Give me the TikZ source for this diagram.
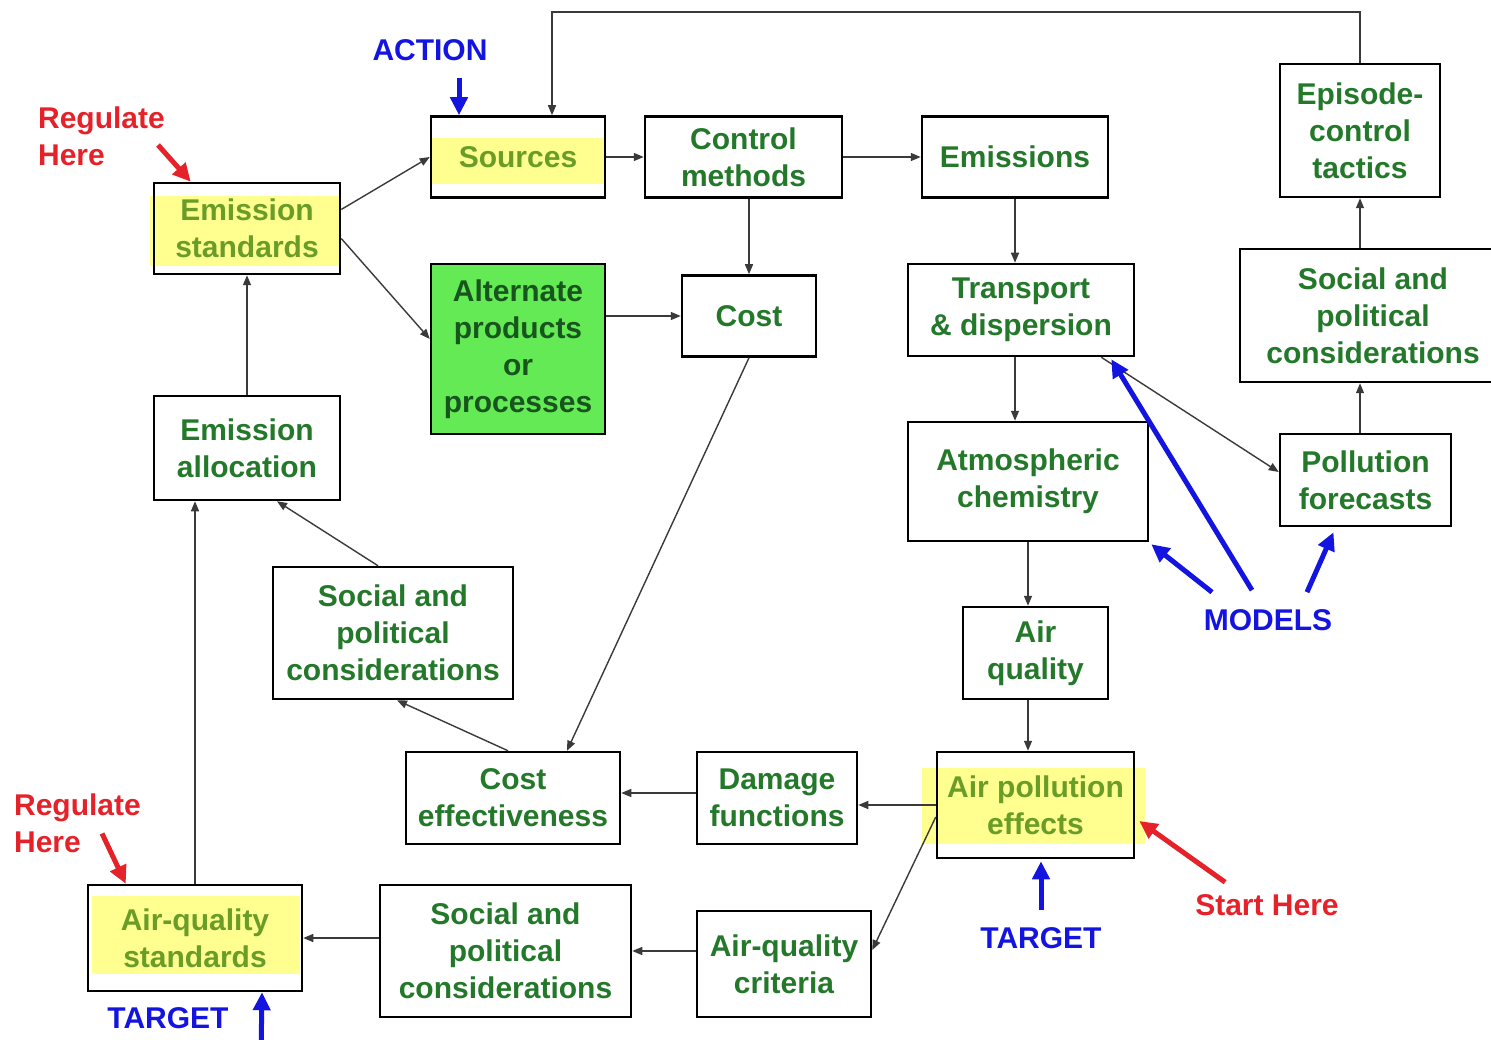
\documentclass[tikz,border=0pt]{standalone}
\usepackage{fontspec}
\setmainfont{Liberation Sans}
\usetikzlibrary{arrows.meta, calc, backgrounds}
\definecolor{cgreen}{HTML}{23782A}
\definecolor{colive}{HTML}{6A9C28}
\definecolor{cfill}{HTML}{63EA55}
\definecolor{chl}{HTML}{FFFF90}
\definecolor{cblue}{HTML}{1414E0}
\definecolor{cred}{HTML}{E5222A}
\definecolor{cgrey}{HTML}{3A3A3A}
\tikzset{
  every picture/.style={font=\bfseries\fontsize{30}{37}\selectfont},
  box/.style={draw=black, line width=2.5pt, align=center, inner sep=0pt, text=#1},
  box/.default=cgreen,
  conn/.style={-{Triangle[length=10pt, width=8pt]}, draw=cgrey, line width=1.4pt},
  pointer/.style={-{Triangle[length=18pt, width=17pt]}, draw=#1, line width=5pt},
  callout/.style={text=#1, align=left, inner sep=0pt},
}

\begin{document}
\begin{tikzpicture}[x=1pt, y=-1pt]
  \useasboundingbox (0,0) rectangle (1491,1040);
  % the boxes of the control scheme
  \foreach \n/\x/\y/\bw/\bh/\col/\txt in {
      src/518/157/174/81/colive/Sources,
      ctrl/743.5/157/197/81/cgreen/{Control\\methods},
      emis/1015/157/186/81/cgreen/Emissions,
      epis/1360/130.5/160/133/cgreen/{Episode-\\control\\tactics},
      socR/1373/315.5/266/133/cgreen/{Social and\\political\\considerations},
      fcst/1365.5/480/171/92/cgreen/{Pollution\\forecasts},
      estd/247/228.5/186/91/colive/{Emission\\standards},
      cost/749/316/134/81/cgreen/Cost,
      trans/1021/310/226/92/cgreen/{Transport\\\& dispersion},
      chem/1028/481.5/240/119/cgreen/{Atmospheric\\chemistry},
      alloc/247/448/186/104/cgreen/{Emission\\allocation},
      socM/393/633/240/132/cgreen/{Social and\\political\\considerations},
      airq/1035.5/653/145/92/cgreen/{Air\\quality},
      ceff/513/798/214/92/cgreen/{Cost\\effectiveness},
      dmg/777/798/160/92/cgreen/{Damage\\functions},
      ape/1035.5/805/197/106/colive/{Air pollution\\effects},
      aqs/195/938/214/106/colive/{Air-quality\\standards},
      socB/505.5/951/251/132/cgreen/{Social and\\political\\considerations},
      aqc/784/964/174/106/cgreen/{Air-quality\\criteria}} {
    \node[box=\col, minimum width=\bw pt, minimum height=\bh pt] (\n) at (\x,\y) {\txt};
  }
  \node[box, fill=cfill, text=cgreen!70!black, minimum width=174pt, minimum height=170pt]
    (alt) at (518,349) {Alternate\\products\\or\\processes};

  % highlighter marks
  \begin{scope}[on background layer]
    \fill[chl] (431,138) rectangle (605,184);
    \fill[chl] (150,196) rectangle (340,266);
    \fill[chl] (922,768) rectangle (1145,844);
    \fill[chl] (92,896) rectangle (300,974);
  \end{scope}

  % connectors
  \foreach \a/\b in {src.east/ctrl.west, ctrl.east/emis.west, alloc.north/estd.south,
      ape.west/ape.west -| dmg.east, aqc.west |- socB.east/socB.east,
      socB.west |- aqs.east/aqs.east, ctrl.south -| cost.north/cost.north,
      alt.east |- cost.west/cost.west, emis.south/emis.south |- trans.north,
      trans.south -| emis.south/emis.south |- chem.north, chem.south/chem.south |- airq.north,
      chem.south |- airq.south/chem.south |- ape.north, epis.south |- fcst.north/epis.south |- socR.south,
      epis.south |- socR.north/epis.south, aqs.north/aqs.north |- alloc.south}
    \draw[conn] (\a) -- (\b);
  \draw[conn] ($(estd.east)+(0,-19)$) -- (src.west);
  \draw[conn] ($(estd.east)+(0,10)$) -- ($(alt.west)+(0,-10)$);
  \draw[conn] ($(trans.south east)+(-34,0)$) -- ($(fcst.west)+(0,-8)$);
  \draw[conn] ($(ape.west)+(0,12)$) -- ($(aqc.east)+(0,-14)$);
  \draw[conn] ($(dmg.west)+(0,-5)$) -- ($(ceff.east)+(0,-5)$);
  \draw[conn] (cost.south) -- ($(ceff.north)+(54,0)$);
  \draw[conn] ($(ceff.north)+(-5,0)$) -- ($(socM.south)+(4,0)$);
  \draw[conn] ($(socM.north)+(-15,0)$) -- ($(alloc.south)+(30,0)$);
  \coordinate (loop) at (552,12);
  \draw[conn] (epis.north) |- (loop) -- (loop |- src.north);

  % notes round the scheme
  \node[callout=cblue] (act) at (430,50) {ACTION};
  \draw[pointer=cblue] ($(act.south)+(29,17)$) -- ($(src.north)+(-59,0)$);
  \node[callout=cred] (reg1) at (101.5,136) {Regulate\\Here};
  \draw[pointer=cred] ($(reg1.east)+(-7,9)$) -- ($(estd.north west)+(38,0)$);
  \node[callout=cred] (reg2) at (77.5,823.5) {Regulate\\Here};
  \draw[pointer=cred] ($(reg2.east)+(-39,10)$) -- ($(aqs.north west)+(39,0)$);
  \node[callout=cblue] (tgt1) at (168,1018) {TARGET};
  \draw[pointer=cblue] ($(tgt1.east)+(32.5,22)$) -- ($(aqs.south)+(67,0)$);
  \node[callout=cblue] (tgt2) at (1041,938) {TARGET};
  \draw[pointer=cblue] ($(tgt2.north)+(0,-17)$) -- ($(ape.south)+(5.5,2)$);
  \node[callout=cred] (start) at (1267,905) {Start Here};
  \draw[pointer=cred] ($(start.north west)+(30,-12)$) -- ($(ape.east)+(4,16)$);
  \node[callout=cblue] (models) at (1268,620) {MODELS};
  \draw[pointer=cblue] ($(models.north)+(-56,-17)$) -- ($(chem.south east)+(2,2)$);
  \draw[pointer=cblue] ($(models.north)+(-16,-19)$) -- ($(trans.south east)+(-24,2)$);
  \draw[pointer=cblue] ($(models.north)+(39,-17)$) -- ($(fcst.south)+(-32,5)$);
\end{tikzpicture}
\end{document}
